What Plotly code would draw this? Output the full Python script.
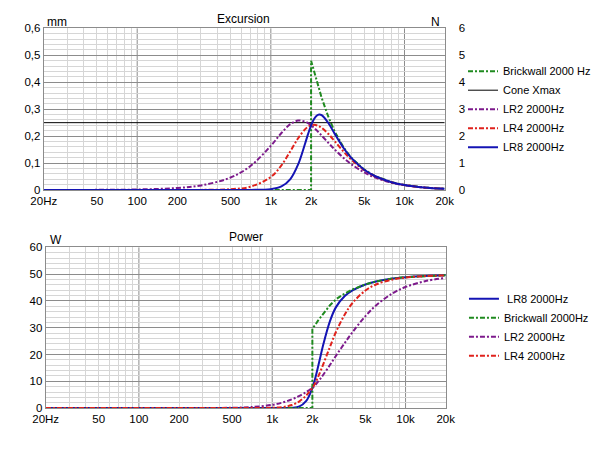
import plotly.graph_objects as go

# frequency grid (Hz) shared by the LR curves
freq = [20, 50, 100, 200, 300, 500, 700, 1000, 1200, 1400, 1600, 1800, 1900, 2000,
        2100, 2200, 2300, 2400, 2700, 3000, 3500, 4000, 5000, 6000, 8000, 10000,
        14000, 20000]

# excursion, mm
exc_lr2 = [0.0001, 0.0005, 0.0019, 0.0076, 0.0169, 0.0463, 0.0880, 0.1641, 0.2116,
           0.2445, 0.2577, 0.2540, 0.2479, 0.2400, 0.2310, 0.2215, 0.2118, 0.2020,
           0.1745, 0.1506, 0.1190, 0.0957, 0.0650, 0.0467, 0.0272, 0.0177, 0.0092,
           0.0045]
exc_lr4 = [0, 0, 0, 0.0001, 0.0004, 0.0031, 0.0119, 0.0483, 0.0917, 0.1440, 0.1919,
           0.2249, 0.2346, 0.2400, 0.2418, 0.2404, 0.2366, 0.2309, 0.2077, 0.1816,
           0.1427, 0.1126, 0.0735, 0.0513, 0.0288, 0.0184, 0.0093, 0.0046]
exc_lr8 = [0, 0, 0, 0, 0, 0, 0.0002, 0.0032, 0.0132, 0.0405, 0.0949, 0.1708, 0.2084,
           0.2400, 0.2628, 0.2758, 0.2803, 0.2777, 0.2478, 0.2093, 0.1561, 0.1191,
           0.0754, 0.0519, 0.0289, 0.0184, 0.0093, 0.0046]

# brickwall has its own grid because of the step at 2 kHz
bw_freq = [20, 2000, 2000, 2100, 2200, 2300, 2400, 2700, 3000, 3500, 4000, 5000,
           6000, 8000, 10000, 14000, 20000]
bw_exc = [0, 0, 0.480, 0.4406, 0.4045, 0.3719, 0.3423, 0.2702, 0.2175, 0.1579,
          0.1196, 0.0754, 0.0519, 0.0289, 0.0184, 0.0093, 0.0046]
bw_pow = [0, 0, 29.8, 31.0, 32.6, 33.9, 35.2, 38.3, 40.6, 42.8, 44.3, 46.2, 47.3,
          48.4, 48.9, 49.35, 49.6]

xmax_freq = [20, 20000]
xmax_mm = [0.25, 0.25]

# power, W
pow_lr2 = [0, 0, 0.0002, 0.003, 0.015, 0.104, 0.357, 1.20, 2.10, 3.24, 4.57, 6.01,
           6.75, 7.45, 8.52, 9.77, 10.99, 12.26, 15.97, 19.46, 24.32, 28.35, 34.33,
           38.31, 42.87, 45.21, 47.40, 48.62]
pow_lr4 = [0, 0, 0, 0, 0, 0.0005, 0.007, 0.104, 0.395, 1.125, 2.53, 4.71, 6.05, 7.45,
           9.33, 11.51, 13.72, 16.02, 22.63, 28.31, 34.95, 39.24, 43.92, 46.15, 48.02,
           48.74, 49.31, 49.58]
pow_lr8 = [0, 0, 0, 0, 0, 0, 0, 0.0005, 0.008, 0.089, 0.62, 2.72, 4.77, 7.45, 11.02,
           15.16, 19.25, 23.17, 32.20, 37.61, 41.84, 43.96, 46.14, 47.29, 48.40, 48.90,
           49.35, 49.60]

x_tickvals = [20, 50, 100, 200, 500, 1000, 2000, 5000, 10000, 20000]
x_ticktext = ["20Hz", "50", "100", "200", "500", "1k", "2k", "5k", "10k", "20k"]
decades = [100, 1000, 10000]
x_minor = [m * d for d in (10, 100, 1000) for m in range(2, 10)] + [20000]

mm_ticks = [0, 0.1, 0.2, 0.3, 0.4, 0.5, 0.6]
mm_text = ["0", "0,1", "0,2", "0,3", "0,4", "0,5", "0,6"]
n_ticks = [0, 1, 2, 3, 4, 5, 6]
w_ticks = [0, 10, 20, 30, 40, 50, 60]

GREEN = "#1f8a1f"
PURPLE = "#7d1a8c"
RED = "#e0221c"
BLUE = "#1414b4"
DD = "5px,2px,2px,2px"
FONT = "Liberation Sans"
MAJOR = "#8c8c8c"
MINOR = "#d6d6d6"
TICKFONT = dict(size=11.5, color="black")

fig = go.Figure()

# top: excursion
fig.add_trace(go.Scatter(x=bw_freq, y=bw_exc, name="Brickwall 2000 Hz", mode="lines",
                         line=dict(color=GREEN, width=2, dash=DD), xaxis="x", yaxis="y",
                         legend="legend"))
fig.add_trace(go.Scatter(x=xmax_freq, y=xmax_mm, name="Cone Xmax", mode="lines",
                         line=dict(color="black", width=1), xaxis="x", yaxis="y",
                         legend="legend"))
fig.add_trace(go.Scatter(x=freq, y=exc_lr2, name="LR2 2000Hz", mode="lines",
                         line=dict(color=PURPLE, width=2, dash=DD, shape="spline"),
                         xaxis="x", yaxis="y", legend="legend"))
fig.add_trace(go.Scatter(x=freq, y=exc_lr4, name="LR4 2000Hz", mode="lines",
                         line=dict(color=RED, width=2, dash=DD, shape="spline"),
                         xaxis="x", yaxis="y", legend="legend"))
fig.add_trace(go.Scatter(x=freq, y=exc_lr8, name="LR8 2000Hz", mode="lines",
                         line=dict(color=BLUE, width=2, shape="spline"),
                         xaxis="x", yaxis="y", legend="legend"))
# empty trace so the right-hand N axis gets its own subplot
fig.add_trace(go.Scatter(x=[], y=[], xaxis="x", yaxis="y2", showlegend=False,
                         hoverinfo="skip"))

# bottom: power
fig.add_trace(go.Scatter(x=freq, y=pow_lr8, name="\u00a0LR8 2000Hz", mode="lines",
                         line=dict(color=BLUE, width=2, shape="spline"),
                         xaxis="x2", yaxis="y3", legend="legend2"))
fig.add_trace(go.Scatter(x=bw_freq, y=bw_pow, name="Brickwall 2000Hz", mode="lines",
                         line=dict(color=GREEN, width=2, dash=DD),
                         xaxis="x2", yaxis="y3", legend="legend2"))
fig.add_trace(go.Scatter(x=freq, y=pow_lr2, name="LR2 2000Hz", mode="lines",
                         line=dict(color=PURPLE, width=2, dash=DD, shape="spline"),
                         xaxis="x2", yaxis="y3", legend="legend2"))
fig.add_trace(go.Scatter(x=freq, y=pow_lr4, name="LR4 2000Hz", mode="lines",
                         line=dict(color=RED, width=2, dash=DD, shape="spline"),
                         xaxis="x2", yaxis="y3", legend="legend2"))

W, H = 598, 453


def xaxis(domain, anchor):
    return dict(type="log", range=[1.30103, 4.30103], domain=domain, anchor=anchor,
                tickvals=x_tickvals, ticktext=x_ticktext, ticks="", showgrid=False,
                minor=dict(tickvals=x_minor, showgrid=True, gridcolor=MINOR, ticks=""),
                showline=True, mirror=True, linecolor=MAJOR, zeroline=False,
                tickfont=TICKFONT)


def yaxis(domain, anchor, rng, tv, tt, minor_step):
    return dict(range=rng, domain=domain, anchor=anchor, tickvals=tv, ticktext=tt,
                ticks="", showgrid=True, gridcolor=MAJOR,
                minor=dict(dtick=minor_step, showgrid=True, gridcolor=MINOR, ticks=""),
                showline=True, mirror=True, linecolor=MAJOR, zeroline=False,
                tickfont=TICKFONT)


top_dom = [1 - 189 / H, 1 - 23 / H]
bot_dom = [1 - 413 / H, 1 - 248 / H]

shapes = []
for xr, yr in (("x", "y"), ("x2", "y3")):
    for d in decades:
        shapes.append(dict(type="line", xref=xr, yref=yr + " domain", x0=d, x1=d,
                           y0=0, y1=1, line=dict(color=MAJOR, width=1), layer="below"))

fig.update_layout(
    width=W, height=H,
    margin=dict(l=0, r=0, t=0, b=0),
    paper_bgcolor="white", plot_bgcolor="white",
    font=dict(family=FONT, size=12, color="black"),
    xaxis=xaxis([32 / W, 449 / W], "y"),
    yaxis=yaxis(top_dom, "x", [0, 0.6], mm_ticks, mm_text, 0.02),
    yaxis2=dict(overlaying="y", side="right", anchor="x", range=[0, 6],
                tickvals=n_ticks, ticks="", showgrid=False, zeroline=False,
                ticklabelstandoff=13, tickfont=TICKFONT),
    xaxis2=xaxis([34 / W, 450 / W], "y3"),
    yaxis3=yaxis(bot_dom, "x2", [0, 60], w_ticks, [str(v) for v in w_ticks], 2),
    shapes=shapes,
    showlegend=True,
    legend=dict(x=468 / W, y=1 - 106 / H, xanchor="left", yanchor="middle",
                bgcolor="rgba(0,0,0,0)", font=dict(size=11), itemwidth=30),
    legend2=dict(x=469 / W, y=1 - 330 / H, xanchor="left", yanchor="middle",
                 bgcolor="rgba(0,0,0,0)", font=dict(size=11), itemwidth=30),
    annotations=[
        dict(text="Excursion", x=240 / W, y=1 - 13 / H, xref="paper", yref="paper",
             showarrow=False, xanchor="center", yanchor="middle"),
        dict(text="mm", x=33 / W, y=1 - 16 / H, xref="paper", yref="paper",
             showarrow=False, xanchor="left", yanchor="middle"),
        dict(text="N", x=446 / W, y=1 - 16 / H, xref="paper", yref="paper",
             showarrow=False, xanchor="right", yanchor="middle"),
        dict(text="Power", x=242 / W, y=1 - 237 / H, xref="paper", yref="paper",
             showarrow=False, xanchor="center", yanchor="middle"),
        dict(text="W", x=36 / W, y=1 - 240 / H, xref="paper", yref="paper",
             showarrow=False, xanchor="left", yanchor="middle"),
    ],
)

# the page's default 8px body margin would shift the whole chart
fig.write_html("out.html", config={"displayModeBar": False},
               post_script="document.body.style.margin='0';")
